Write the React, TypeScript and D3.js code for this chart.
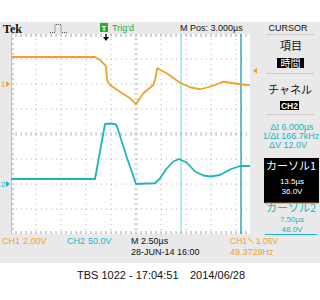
import React from 'react';
import * as d3 from 'd3';

// CH1 (orange) : time in µs, volts
const ch1Time = [-9.5, -1.1, -0.6, -0.1, 0.0, 0.1, 0.4, 1.4, 2.4, 3.0, 3.73, 4.73, 4.9, 5.13, 6.07, 7.4, 8.4, 9.4, 10.4, 11.73, 12.73, 14.07, 15.5];
const ch1Volts = [2.16, 2.16, 1.92, 1.52, 1.4, 0.32, -0.08, -0.62, -1.14, -1.6, -0.74, -0.08, 0.32, 1.26, 0.86, 0.1, -0.26, -0.42, -0.22, 0.18, 0.06, -0.08, -0.1];
// CH2 (cyan)
const ch2Time = [-9.5, -1.1, -0.1, 0.5, 1.0, 1.1, 2.0, 3.0, 4.0, 4.9, 5.4, 6.07, 6.73, 7.3, 8.07, 8.9, 9.73, 10.5, 11.4, 12.4, 13.4, 14.4, 15.5];
const ch2Volts = [10, 10, 120, 121, 119, 115, 58, 0, 1, 1.5, 11, 31, 45, 50, 43, 25, 17, 15, 18, 29, 36, 36, 34];

const cursorTimes = [7.5, 13.5];
const triggerLevel = 1.06;
const divisionsX = [0, 1, 2, 3, 4, 5, 6, 7, 8, 9, 10];
const divisionsY = [0, 1, 2, 3, 4, 5, 6, 7, 8];

const ORANGE = '#eea22a';
const CYAN = '#1cb4bf';
const GRAY = '#e9e9e9';

export default function App() {
  const x = d3.scaleLinear().domain([-9.5, 15.5]).range([11, 261]);
  const y1 = d3.scaleLinear().domain([-12, 4]).range([234, 34]);
  const y2 = d3.scaleLinear().domain([-100, 300]).range([234, 34]);
  const xd = d3.scaleLinear().domain([0, 10]).range([11, 261]);
  const yd = d3.scaleLinear().domain([0, 8]).range([34, 234]);

  const line1 = d3.line<number>().x((_, i) => x(ch1Time[i])).y((v) => y1(v));
  const line2 = d3.line<number>().x((_, i) => x(ch2Time[i])).y((v) => y2(v));

  const ticks: number[] = d3.range(11, 251, 5);
  const vticks: number[] = d3.range(34, 235, 5);
  const font = "'Liberation Sans', Arial, sans-serif";
  const jp = "'Noto Sans CJK JP', sans-serif";
  const ty = y1(triggerLevel);

  return (
    <svg width={320} height={300} style={{ position: 'absolute', left: 0, top: 0, display: 'block' }} fontFamily={font}>
      <rect x={0} y={0} width={320} height={300} fill="#fff" />
      <rect x={0} y={22} width={320} height={241} fill={GRAY} />
      <rect x={11} y={34} width={239} height={200} fill="#fff" />
      <defs>
        <clipPath id="plot"><rect x={11} y={34} width={239} height={200} /></clipPath>
      </defs>
      <g clipPath="url(#plot)">
        {divisionsX.map((d) => (
          <line key={'gx' + d} x1={xd(d)} x2={xd(d)} y1={34} y2={234} stroke="#b4b4b4" strokeWidth={1} strokeDasharray="1,4" />
        ))}
        {divisionsY.map((d) => (
          <line key={'gy' + d} x1={11} x2={261} y1={yd(d)} y2={yd(d)} stroke="#b4b4b4" strokeWidth={1} strokeDasharray="1,4" />
        ))}
        {ticks.map((t) => (
          <g key={'t' + t}>
            <line x1={t} x2={t} y1={34} y2={37} stroke="#a8a8a8" />
            <line x1={t} x2={t} y1={231} y2={234} stroke="#a8a8a8" />
            <line x1={t} x2={t} y1={132} y2={136} stroke="#c4c4c4" />
          </g>
        ))}
        {vticks.map((t) => (
          <g key={'v' + t}>
            <line x1={11} x2={14} y1={t} y2={t} stroke="#a8a8a8" />
            <line x1={134} x2={138} y1={t} y2={t} stroke="#c4c4c4" />
          </g>
        ))}
        <line x1={11.5} x2={11.5} y1={34} y2={234} stroke="#bdbdbd" />
        {cursorTimes.map((c, i) => (
          <line key={'c' + i} x1={x(c)} x2={x(c)} y1={34} y2={234} stroke={i === 0 ? '#6dd3da' : '#129fac'} strokeWidth={i === 0 ? 1 : 1.3} />
        ))}
        <path d={line1(ch1Volts) || ''} fill="none" stroke={ORANGE} strokeWidth={1.8} strokeLinejoin="round" />
        <path d={line2(ch2Volts) || ''} fill="none" stroke={CYAN} strokeWidth={1.8} strokeLinejoin="round" />
      </g>

      {/* trigger position arrow */}
      <line x1={x(0)} x2={x(0)} y1={34} y2={39} stroke="#000" strokeWidth={1.2} />
      <path d={`M${x(0) - 3},37 L${x(0) + 3},37 L${x(0)},41 Z`} fill="#000" />
      {/* ground markers */}
      <text x={1} y={y1(0) + 3} fontSize={8} fill={ORANGE}>1</text>
      <path d={`M6,${y1(0) - 3} L10,${y1(0)} L6,${y1(0) + 3} Z`} fill={ORANGE} />
      <text x={1} y={y2(0) + 3} fontSize={8} fill={CYAN}>2</text>
      <path d={`M6,${y2(0) - 3} L10,${y2(0)} L6,${y2(0) + 3} Z`} fill={CYAN} />
      {/* trigger level marker */}
      <path d={`M253,${ty} L257,${ty - 3} L257,${ty + 3} Z`} fill={ORANGE} />

      {/* header */}
      <text x={3} y={33} fontFamily="'Liberation Serif', serif" fontWeight="bold" fontSize={12} fill="#111">Tek</text>
      <path d="M50,32.5 L55,32.5 L55,24.5 L61,24.5 L61,32.5 L67,32.5" fill="none" stroke="#333" strokeWidth={0.8} strokeDasharray="1,1" />
      <rect x={100} y={23} width={8} height={9} fill="#1fae3c" />
      <text x={104} y={30.5} fontSize={8} fill="#fff" textAnchor="middle" fontWeight="bold">T</text>
      <text x={112} y={31} fontSize={9} fill="#2aa845">Trig'd</text>
      <text x={180} y={31} fontSize={9} fill="#111">M Pos: 3.000µs</text>
      <text x={288} y={31} fontSize={9} fill="#111" textAnchor="middle">CURSOR</text>
      <line x1={266} x2={314} y1={34.5} y2={34.5} stroke="#cdcdcd" />

      {/* right menu */}
      <text x={291} y={50} fontSize={11} fontFamily={jp} fill="#111" textAnchor="middle">項目</text>
      <rect x={277} y={58} width={27} height={10} fill="#000" />
      <text x={290.5} y={66.5} fontSize={10} fontFamily={jp} fill="#fff" textAnchor="middle">時間</text>
      <line x1={266} x2={314} y1={73.5} y2={73.5} stroke="#cdcdcd" />
      <text x={290} y={94} fontSize={11} fontFamily={jp} fill="#111" textAnchor="middle">チャネル</text>
      <rect x={280} y={101} width={19} height={9} fill="#000" />
      <text x={289.5} y={108.5} fontSize={8.5} fill="#fff" fontWeight="bold" textAnchor="middle">CH2</text>
      <line x1={266} x2={314} y1={114.5} y2={114.5} stroke="#cdcdcd" />
      <text x={292} y={130} fontSize={9} fill={CYAN} textAnchor="middle">Δt 6.000µs</text>
      <text x={291} y={139} fontSize={9} fill={CYAN} textAnchor="middle">1/Δt 166.7kHz</text>
      <text x={288} y={148} fontSize={9} fill={CYAN} textAnchor="middle">ΔV 12.0V</text>
      <rect x={264} y={158} width={55} height={45} fill="#000" />
      <text x={291} y={169.5} fontSize={11} fontFamily={jp} fill="#fff" textAnchor="middle">カーソル1</text>
      <text x={292} y={184} fontSize={8} fill="#fff" textAnchor="middle">13.5µs</text>
      <text x={292} y={193.5} fontSize={8} fill="#fff" textAnchor="middle">36.0V</text>
      <line x1={265} x2={318} y1={203} y2={203} stroke="#b87a2c" />
      <text x={291} y={211.5} fontSize={11} fontFamily={jp} fill={CYAN} textAnchor="middle">カーソル2</text>
      <text x={292} y={222} fontSize={8} fill={CYAN} textAnchor="middle">7.50µs</text>
      <text x={292} y={231.5} fontSize={8} fill={CYAN} textAnchor="middle">48.0V</text>
      <line x1={265} x2={317} y1={234.5} y2={234.5} stroke={CYAN} />

      {/* bottom status */}
      <text x={2} y={244} fontSize={9} fill={ORANGE}>CH1</text>
      <text x={23} y={244} fontSize={9} fill={ORANGE}>2.00V</text>
      <text x={67} y={244} fontSize={9} fill={CYAN}>CH2</text>
      <text x={88} y={244} fontSize={9} fill={CYAN}>50.0V</text>
      <text x={131} y={244} fontSize={9} fill="#111">M 2.50µs</text>
      <text x={131} y={255} fontSize={9} fill="#111">28-JUN-14 16:00</text>
      <text x={230} y={244} fontSize={8.5} fill={ORANGE}>CH1</text>
      <line x1={248} x2={253} y1={237.5} y2={243} stroke={ORANGE} strokeWidth={1} />
      <text x={256} y={244} fontSize={8.5} fill={ORANGE}>1.06V</text>
      <text x={230} y={255} fontSize={9} fill={ORANGE}>49.3729Hz</text>

      {/* footer caption */}
      <text x={77} y={279} fontSize={11} fill="#111">TBS 1022 - 17:04:51</text>
      <text x={190} y={279} fontSize={11} fill="#111">2014/06/28</text>
    </svg>
  );
}
